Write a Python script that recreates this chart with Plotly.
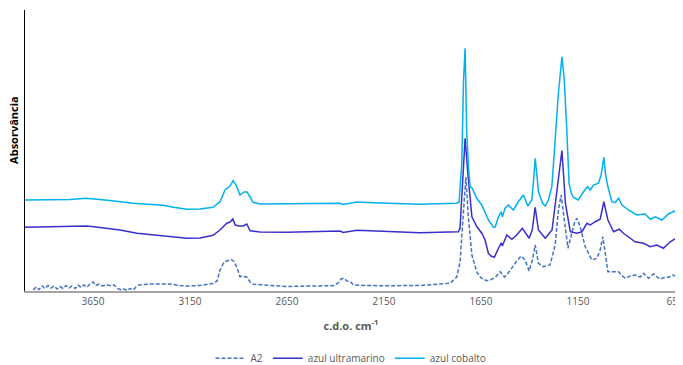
import plotly.graph_objects as go

# Wavenumbers (cm-1) and absorbance values
wn_cobalto = [4000, 3871, 3768, 3686, 3639, 3562, 3443, 3356, 3289, 3227, 3165, 3098, 3031, 2995,
              2969, 2943, 2928, 2912, 2892, 2871, 2856, 2840, 2825, 2789, 2649, 2531, 2376, 2361,
              2325, 2289, 2170, 1964, 1775, 1763, 1749, 1740, 1732, 1724, 1715, 1706, 1696, 1672,
              1646, 1629, 1612, 1586, 1577, 1560, 1546, 1540, 1526, 1509, 1483, 1458, 1431, 1409,
              1388, 1379, 1371, 1362, 1354, 1333, 1319, 1303, 1285, 1268, 1252, 1233, 1221, 1208,
              1196, 1185, 1174, 1149, 1122, 1101, 1087, 1070, 1045, 1031, 1017, 1008, 996, 976,
              959, 941, 924, 890, 847, 804, 778, 752, 718, 684, 649]
abs_cobalto = [0.364, 0.364, 0.366, 0.371, 0.368, 0.362, 0.351, 0.346, 0.343, 0.334, 0.327, 0.328,
               0.335, 0.357, 0.404, 0.420, 0.441, 0.424, 0.384, 0.396, 0.396, 0.376, 0.355, 0.348,
               0.348, 0.350, 0.351, 0.346, 0.352, 0.356, 0.352, 0.347, 0.351, 0.356, 0.512, 0.844,
               0.971, 0.644, 0.497, 0.417, 0.412, 0.371, 0.344, 0.316, 0.284, 0.255, 0.256, 0.297,
               0.317, 0.297, 0.331, 0.344, 0.324, 0.357, 0.384, 0.340, 0.364, 0.444, 0.531, 0.464,
               0.397, 0.351, 0.340, 0.364, 0.417, 0.604, 0.784, 0.937, 0.844, 0.644, 0.428, 0.392,
               0.375, 0.364, 0.397, 0.417, 0.404, 0.424, 0.431, 0.464, 0.535, 0.464, 0.417, 0.357,
               0.353, 0.371, 0.344, 0.324, 0.304, 0.308, 0.287, 0.297, 0.284, 0.308, 0.321]

wn_ultra = [4000, 3871, 3768, 3680, 3613, 3510, 3423, 3304, 3165, 3098, 3031, 2995, 2960, 2943,
            2929, 2917, 2897, 2876, 2857, 2840, 2789, 2649, 2376, 2361, 2289, 1964, 1766, 1758,
            1746, 1732, 1718, 1697, 1671, 1646, 1629, 1612, 1598, 1581, 1560, 1546, 1540, 1517,
            1491, 1466, 1437, 1402, 1386, 1371, 1354, 1319, 1284, 1258, 1233, 1215, 1190, 1156,
            1130, 1104, 1087, 1062, 1036, 1017, 996, 967, 938, 916, 890, 856, 813, 778, 744, 710,
            675, 646]
abs_ultra = [0.255, 0.256, 0.258, 0.260, 0.254, 0.244, 0.231, 0.222, 0.211, 0.212, 0.223, 0.244,
             0.271, 0.276, 0.288, 0.264, 0.260, 0.260, 0.268, 0.241, 0.236, 0.235, 0.240, 0.234,
             0.243, 0.233, 0.237, 0.252, 0.417, 0.611, 0.471, 0.297, 0.257, 0.231, 0.204, 0.151,
             0.140, 0.135, 0.171, 0.193, 0.180, 0.224, 0.207, 0.224, 0.251, 0.211, 0.244, 0.335,
             0.244, 0.211, 0.244, 0.417, 0.562, 0.351, 0.237, 0.231, 0.237, 0.271, 0.264, 0.277,
             0.287, 0.357, 0.284, 0.237, 0.247, 0.231, 0.217, 0.197, 0.191, 0.177, 0.184, 0.171,
             0.197, 0.211]

wn_a2 = [3957, 3943, 3928, 3912, 3897, 3881, 3866, 3851, 3835, 3820, 3804, 3789, 3773, 3758, 3742,
         3727, 3711, 3696, 3680, 3665, 3649, 3634, 3619, 3603, 3582, 3562, 3541, 3521, 3505, 3490,
         3474, 3459, 3443, 3428, 3412, 3392, 3356, 3304, 3253, 3201, 3165, 3098, 3031, 3010, 2995,
         2974, 2959, 2938, 2923, 2907, 2892, 2876, 2857, 2840, 2823, 2737, 2649, 2531, 2412, 2386,
         2371, 2359, 2340, 2325, 2309, 2290, 2170, 1964, 1809, 1775, 1758, 1741, 1728, 1715, 1697,
         1672, 1650, 1621, 1598, 1577, 1562, 1551, 1541, 1529, 1510, 1490, 1465, 1443, 1423, 1402,
         1385, 1371, 1354, 1328, 1294, 1268, 1251, 1237, 1220, 1202, 1182, 1167, 1156, 1139, 1113,
         1079, 1053, 1036, 1022, 1010, 996, 967, 941, 927, 907, 881, 856, 830, 813, 787, 761, 742,
         727, 706, 684, 658, 646]
abs_a2 = [0.004, 0.016, 0.006, 0.020, 0.010, 0.022, 0.012, 0.020, 0.008, 0.018, 0.010, 0.022, 0.012,
          0.020, 0.010, 0.024, 0.014, 0.024, 0.016, 0.028, 0.036, 0.022, 0.028, 0.020, 0.024, 0.022,
          0.024, 0.010, 0.004, 0.008, 0.002, 0.010, 0.004, 0.016, 0.024, 0.026, 0.028, 0.028, 0.028,
          0.022, 0.020, 0.022, 0.030, 0.040, 0.084, 0.116, 0.120, 0.126, 0.118, 0.092, 0.057, 0.060,
          0.055, 0.036, 0.027, 0.022, 0.018, 0.020, 0.021, 0.032, 0.048, 0.051, 0.040, 0.038, 0.026,
          0.023, 0.021, 0.022, 0.031, 0.056, 0.116, 0.311, 0.456, 0.292, 0.144, 0.076, 0.052, 0.041,
          0.046, 0.054, 0.068, 0.077, 0.068, 0.056, 0.072, 0.096, 0.121, 0.140, 0.124, 0.080, 0.124,
          0.184, 0.111, 0.097, 0.104, 0.184, 0.324, 0.384, 0.284, 0.171, 0.231, 0.276, 0.291, 0.257,
          0.177, 0.124, 0.131, 0.164, 0.217, 0.151, 0.077, 0.077, 0.077, 0.064, 0.051, 0.060, 0.064,
          0.056, 0.071, 0.051, 0.068, 0.056, 0.047, 0.054, 0.055, 0.064, 0.057]

x_ticks = [3650, 3150, 2650, 2150, 1650, 1150, 650]

FONT = "Open Sans"

fig = go.Figure()
fig.add_trace(go.Scatter(x=wn_a2, y=abs_a2, mode="lines", name="A2",
                         line=dict(color="#4472C4", width=1.5, dash="4px,2px")))
fig.add_trace(go.Scatter(x=wn_ultra, y=abs_ultra, mode="lines", name="azul ultramarino",
                         line=dict(color="#3A2FCB", width=1.5)))
fig.add_trace(go.Scatter(x=wn_cobalto, y=abs_cobalto, mode="lines", name="azul cobalto",
                         line=dict(color="#00B0F0", width=1.5)))

# page body has an 8px margin: figure is sized so the whole picture fits the 683x365 window
fig.update_layout(
    width=675, height=357,
    margin=dict(l=17, r=6, t=2, b=74, autoexpand=False),
    paper_bgcolor="white", plot_bgcolor="white",
    font=dict(family=FONT, size=10, color="#595959"),
    showlegend=True,
    legend=dict(orientation="h", x=0.5, xanchor="center", y=-0.188, yanchor="top",
                font=dict(size=10, color="#595959"), itemwidth=30),
    xaxis=dict(range=[4000, 640], tickvals=x_ticks, ticktext=[str(t) for t in x_ticks],
               showline=True, linecolor="#A6A6A6", linewidth=2, showgrid=False,
               zeroline=False, ticks="", automargin=False, ticklabeloverflow="allow",
               title=dict(text="<b>c.d.o. cm<sup>-1</sup></b>", font=dict(size=11, color="#595959"),
                          standoff=15)),
    yaxis=dict(range=[0, 1.124], showline=True, linecolor="#000000", linewidth=1,
               showgrid=False, zeroline=False, showticklabels=False, ticks="", automargin=False),
    annotations=[dict(text="<b>Absorvância</b>", textangle=-90, xref="paper", yref="paper",
                      x=-0.017, y=0.573, xanchor="center", yanchor="middle", showarrow=False,
                      font=dict(size=11, color="#000000"))],
)

fig.write_html("out.html")
